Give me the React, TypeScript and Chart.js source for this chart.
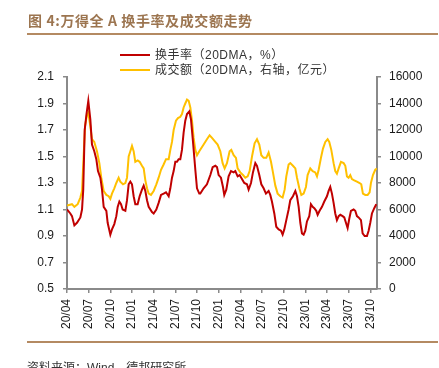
import React, { useEffect, useRef } from "react";
import { Chart, registerables } from "chart.js";

Chart.register(...registerables);

const xTickLabels = ["20/04", "20/07", "20/10", "21/01", "21/04", "21/07", "21/10", "22/01", "22/04", "22/07", "22/10", "23/01", "23/04", "23/07", "23/10"];

// months since 2020/04
const turnoverMonths = [0, 0.46, 0.69, 1.02, 1.38, 1.85, 2.08, 2.25, 2.45, 2.7, 2.95, 3.23, 3.46, 3.78, 4.06, 4.29, 4.62, 4.85, 5.08, 5.45, 5.63, 6.0, 6.23, 6.55, 6.83, 7.02, 7.25, 7.48, 7.71, 8.08, 8.31, 8.54, 8.77, 9.0, 9.23, 9.46, 9.78, 10.06, 10.38, 10.62, 10.85, 11.08, 11.31, 11.77, 12.0, 12.37, 12.69, 13.02, 13.38, 13.71, 14.08, 14.31, 14.54, 14.77, 15.0, 15.23, 15.46, 15.69, 15.92, 16.15, 16.38, 16.62, 16.94, 17.17, 17.45, 17.77, 18.0, 18.32, 18.46, 18.92, 19.38, 19.85, 20.17, 20.54, 20.77, 21.0, 21.32, 21.6, 21.78, 22.06, 22.38, 22.71, 23.08, 23.31, 23.63, 23.91, 24.23, 24.55, 24.92, 25.15, 25.48, 25.75, 26.08, 26.31, 26.63, 26.91, 27.23, 27.55, 27.92, 28.15, 28.38, 28.71, 28.98, 29.31, 29.63, 29.86, 30.09, 30.37, 30.69, 30.92, 31.29, 31.62, 31.85, 32.08, 32.31, 32.54, 32.77, 33.0, 33.23, 33.55, 33.78, 34.02, 34.25, 34.52, 34.71, 34.98, 35.31, 35.63, 36.0, 36.23, 36.46, 36.69, 36.92, 37.15, 37.38, 37.62, 37.85, 38.17, 38.4, 38.63, 38.86, 39.09, 39.32, 39.69, 39.92, 40.15, 40.38, 40.71, 40.94, 41.22, 41.54, 41.77, 42.0, 42.23, 42.55, 42.83];
const turnoverRate = [1.10, 1.07, 1.05, 0.98, 1.00, 1.04, 1.10, 1.25, 1.70, 1.82, 1.92, 1.78, 1.59, 1.54, 1.48, 1.39, 1.34, 1.25, 1.12, 1.09, 1.00, 0.91, 0.95, 0.99, 1.05, 1.12, 1.16, 1.14, 1.10, 1.09, 1.17, 1.29, 1.31, 1.29, 1.20, 1.14, 1.14, 1.20, 1.25, 1.28, 1.24, 1.17, 1.12, 1.08, 1.07, 1.10, 1.15, 1.21, 1.22, 1.23, 1.20, 1.26, 1.34, 1.39, 1.46, 1.46, 1.48, 1.48, 1.55, 1.68, 1.77, 1.82, 1.84, 1.78, 1.61, 1.40, 1.26, 1.22, 1.22, 1.26, 1.29, 1.36, 1.42, 1.43, 1.42, 1.36, 1.34, 1.27, 1.21, 1.25, 1.35, 1.39, 1.38, 1.39, 1.35, 1.36, 1.33, 1.30, 1.29, 1.25, 1.30, 1.38, 1.45, 1.43, 1.36, 1.29, 1.26, 1.22, 1.24, 1.21, 1.16, 1.07, 0.97, 0.95, 0.94, 0.91, 0.95, 1.02, 1.10, 1.17, 1.20, 1.24, 1.20, 1.12, 1.00, 0.92, 0.91, 0.94, 1.01, 1.05, 1.14, 1.12, 1.11, 1.09, 1.06, 1.09, 1.12, 1.16, 1.20, 1.24, 1.27, 1.22, 1.15, 1.07, 1.02, 1.05, 1.06, 1.05, 1.04, 1.00, 0.96, 1.03, 1.09, 1.10, 1.09, 1.05, 1.04, 1.02, 0.92, 0.90, 0.90, 0.94, 1.00, 1.07, 1.11, 1.14];

const volumeMonths = [0, 0.69, 1.02, 1.48, 1.85, 2.08, 2.3, 2.5, 2.75, 2.95, 3.23, 3.46, 3.78, 4.15, 4.48, 4.75, 5.08, 5.45, 5.77, 6.0, 6.23, 6.55, 6.83, 7.15, 7.38, 7.75, 8.08, 8.31, 8.54, 8.77, 9.0, 9.23, 9.46, 9.78, 10.06, 10.38, 10.62, 10.85, 11.08, 11.31, 11.63, 12.0, 12.37, 12.69, 13.02, 13.38, 13.71, 14.08, 14.31, 14.54, 14.77, 15.09, 15.37, 15.69, 15.92, 16.15, 16.38, 16.62, 16.85, 17.08, 17.31, 17.54, 17.77, 18.0, 18.32, 18.92, 19.38, 19.75, 20.08, 20.54, 20.86, 21.23, 21.55, 21.83, 22.15, 22.52, 22.75, 23.08, 23.4, 23.63, 24.0, 24.37, 24.69, 25.02, 25.29, 25.62, 25.98, 26.31, 26.63, 26.91, 27.23, 27.6, 27.92, 28.25, 28.52, 28.85, 29.17, 29.54, 29.86, 30.14, 30.37, 30.69, 30.92, 31.29, 31.62, 31.85, 32.17, 32.45, 32.77, 33.09, 33.32, 33.69, 34.02, 34.38, 34.62, 34.85, 35.17, 35.45, 35.77, 36.09, 36.32, 36.6, 36.92, 37.15, 37.38, 37.62, 37.94, 38.31, 38.54, 38.77, 39.0, 39.23, 39.46, 39.78, 40.15, 40.52, 40.75, 40.98, 41.31, 41.63, 41.91, 42.09, 42.37, 42.69, 42.92];
const volumeAmount = [6300, 6400, 6200, 6400, 6900, 7400, 10000, 12300, 13100, 13300, 12300, 11300, 11100, 10400, 9500, 8400, 7400, 7100, 7000, 6800, 7200, 7600, 8000, 8400, 8100, 7900, 8000, 8400, 10000, 10400, 10800, 10400, 9600, 9700, 9600, 9300, 9100, 8200, 7600, 7200, 7100, 7400, 7900, 8400, 9000, 9400, 9800, 9800, 10500, 11100, 12000, 12700, 12900, 13000, 13200, 13700, 14000, 14300, 14200, 13700, 12700, 11400, 10500, 10100, 10400, 10900, 11300, 11600, 11400, 11100, 10900, 10400, 9500, 9100, 9500, 10400, 10500, 10100, 9900, 9100, 8800, 8600, 8400, 8500, 8900, 10000, 11000, 11300, 10900, 10100, 9900, 9900, 10300, 9600, 8800, 7800, 7200, 7000, 6900, 7500, 8500, 9400, 9500, 9300, 9100, 8400, 7600, 7100, 7200, 7700, 8600, 9100, 8900, 8800, 8500, 9000, 9900, 10600, 11100, 11300, 11100, 10500, 9500, 8900, 8700, 9100, 9600, 9500, 9300, 8500, 8400, 8600, 8300, 8200, 8100, 8000, 7900, 7200, 7100, 7100, 7300, 8000, 8600, 9000, 9100];

const RED = "#C00000";
const YELLOW = "#FFC000";
const AXIS = "#8a8a8a";
const TICK_FONT = { family: "'Liberation Sans', Arial, sans-serif", size: 12 };
const TEXT = "#1a1a1a";

export default function App() {
  const ref = useRef<HTMLCanvasElement | null>(null);

  useEffect(() => {
    if (!ref.current) return;
    const chart = new Chart(ref.current, {
      type: "line",
      data: {
        datasets: [
          {
            label: "换手率（20DMA，%）",
            data: turnoverMonths.map((m, i) => ({ x: m, y: turnoverRate[i] })),
            yAxisID: "y",
            borderColor: RED,
            backgroundColor: RED,
            borderWidth: 2,
            pointRadius: 0,
            tension: 0,
          },
          {
            label: "成交额（20DMA，右轴，亿元）",
            data: volumeMonths.map((m, i) => ({ x: m, y: volumeAmount[i] })),
            yAxisID: "y1",
            borderColor: YELLOW,
            backgroundColor: YELLOW,
            borderWidth: 2,
            pointRadius: 0,
            tension: 0,
          },
        ],
      },
      options: {
        animation: false,
        responsive: false,
        devicePixelRatio: 1,
        layout: { padding: { top: 77, left: 0, right: 0, bottom: 39 } },
        plugins: { legend: { display: false }, tooltip: { enabled: false }, title: { display: false } },
        scales: {
          x: {
            type: "linear",
            min: 0,
            max: 42.93,
            afterFit: (s: any) => { s.height = 40; },
            grid: { drawOnChartArea: false, drawTicks: true, tickLength: 4, color: AXIS, lineWidth: 1.5 },
            border: { display: true, color: AXIS, width: 2 },
            ticks: {
              stepSize: 3,
              includeBounds: false,
              autoSkip: false,
              maxRotation: 90,
              minRotation: 90,
              padding: 6,
              color: TEXT,
              font: TICK_FONT,
              callback: (v: any) => {
                const i = Math.round(Number(v) / 3);
                return xTickLabels[i] ?? "";
              },
            },
          },
          y: {
            type: "linear",
            position: "left",
            min: 0.5,
            max: 2.1,
            afterFit: (s: any) => { s.width = 67; },
            grid: { drawOnChartArea: false, drawTicks: true, tickLength: 4, color: AXIS, lineWidth: 1.5 },
            border: { display: true, color: AXIS, width: 2 },
            ticks: {
              stepSize: 0.2,
              padding: 9,
              color: TEXT,
              font: TICK_FONT,
              callback: (v: any) => Number(v).toFixed(1),
            },
          },
          y1: {
            type: "linear",
            position: "right",
            min: 0,
            max: 16000,
            afterFit: (s: any) => { s.width = 62; },
            grid: { drawOnChartArea: false, drawTicks: true, tickLength: 4, color: AXIS, lineWidth: 1.5 },
            border: { display: true, color: AXIS, width: 2 },
            ticks: {
              stepSize: 2000,
              padding: 8,
              color: TEXT,
              font: TICK_FONT,
              callback: (v: any) => String(Math.round(Number(v))),
            },
          },
        },
      },
    });
    return () => chart.destroy();
  }, []);

  const cjk = "'Liberation Sans', Arial, 'Noto Sans CJK SC', sans-serif";

  return (
    <div style={{ position: "fixed", left: 0, top: 0, width: 439, height: 368, overflow: "hidden", background: "#fff" }}>
      <canvas ref={ref} width={439} height={368} style={{ position: "absolute", left: 0, top: 0, width: 439, height: 368 }} />
      <div style={{ position: "absolute", left: 28, top: 11, fontFamily: "'Noto Sans CJK SC', sans-serif", fontWeight: 700, fontSize: 14, letterSpacing: "0.6px", lineHeight: "18px", color: "#9C7550", whiteSpace: "nowrap" }}>
        图 4:万得全 A 换手率及成交额走势
      </div>
      <div style={{ position: "absolute", left: 27, top: 33, width: 411, height: 2, background: "#B48A62" }} />
      <div style={{ position: "absolute", left: 120, top: 54, width: 30, height: 2, background: RED }} />
      <div style={{ position: "absolute", left: 155, top: 47, fontFamily: cjk, fontSize: 12, letterSpacing: "0.5px", lineHeight: "16px", color: "#333", whiteSpace: "nowrap" }}>
        换手率（20DMA，%）
      </div>
      <div style={{ position: "absolute", left: 120, top: 69, width: 30, height: 2, background: YELLOW }} />
      <div style={{ position: "absolute", left: 155, top: 62, fontFamily: cjk, fontSize: 12, letterSpacing: "0.5px", lineHeight: "16px", color: "#333", whiteSpace: "nowrap" }}>
        成交额（20DMA，右轴，亿元）
      </div>
      <div style={{ position: "absolute", left: 27, top: 341, width: 411, height: 2, background: "#B48A62" }} />
      <div style={{ position: "absolute", left: 27, top: 360, fontFamily: cjk, fontSize: 12, lineHeight: "16px", color: "#333", whiteSpace: "nowrap" }}>
        资料来源：Wind，德邦研究所
      </div>
    </div>
  );
}
